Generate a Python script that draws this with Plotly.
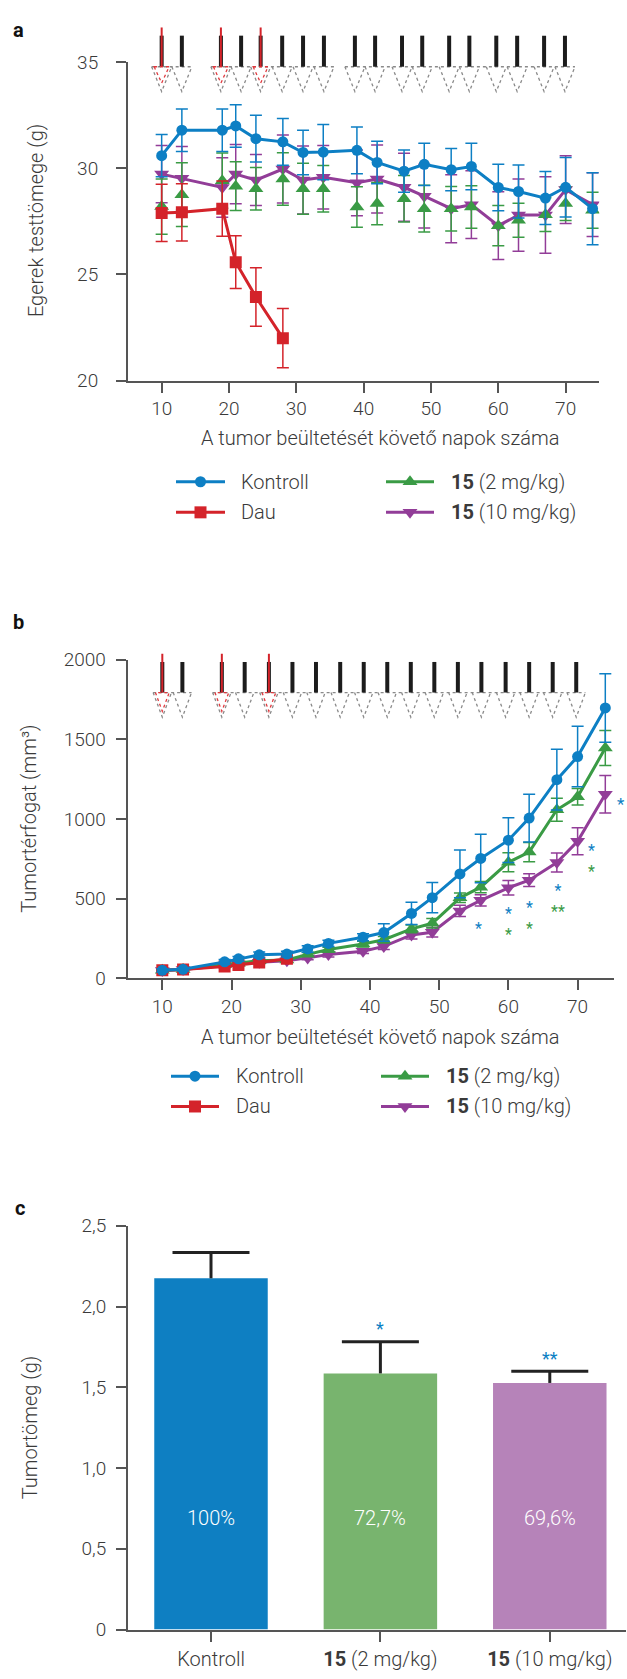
import plotly.graph_objects as go

W, H = 627, 1679
FONT = "Roboto"
TXT = "#3a3a3a"
AX = "#555555"

# ---------------- data ----------------
days = [10, 13, 19, 21, 24, 28, 31, 34, 39, 42, 46, 49, 53, 56, 60, 63, 67, 70, 74]
dau_days = [10, 13, 19, 21, 24, 28]

series_names = ["Kontroll", "Dau", "<b>15</b> (2 mg/kg)", "<b>15</b> (10 mg/kg)"]
series_colors = ["#0d7fc4", "#d4232a", "#3a9b45", "#923d98"]
series_symbols = ["circle", "square", "triangle-up", "triangle-down"]

# (a) body weight (g)
wt_kontroll = [30.6, 31.8, 31.8, 32.0, 31.4, 31.25, 30.75, 30.77, 30.85, 30.28, 29.87, 30.19, 29.94, 30.09, 29.1, 28.91, 28.6, 29.11, 28.1]
wt_kontroll_sd = [1.0, 1.0, 1.0, 1.0, 1.1, 1.1, 1.05, 1.3, 1.1, 1.0, 1.0, 1.0, 1.0, 1.1, 1.1, 1.25, 1.25, 1.4, 1.7]
wt_dau = [27.9, 27.93, 28.1, 25.58, 23.94, 22.0]
wt_dau_sd = [1.35, 1.35, 1.3, 1.24, 1.38, 1.4]
wt_15_2 = [28.2, 28.76, 29.42, 29.16, 29.04, 29.5, 29.04, 29.04, 28.18, 28.34, 28.57, 28.1, 28.1, 28.18, 27.3, 27.56, 27.82, 28.34, 28.03]
wt_15_2_sd = [1.3, 1.5, 1.3, 1.15, 1.0, 1.24, 1.2, 1.1, 0.95, 1.0, 1.1, 1.1, 1.05, 1.0, 0.95, 0.8, 0.8, 0.8, 0.85]
wt_15_10 = [29.73, 29.53, 29.1, 29.73, 29.45, 29.97, 29.45, 29.58, 29.32, 29.5, 29.11, 28.69, 28.1, 28.29, 27.3, 27.8, 27.8, 29.0, 28.29]
wt_15_10_sd = [1.35, 1.5, 1.4, 1.4, 1.2, 1.6, 1.6, 1.5, 1.55, 1.6, 1.6, 1.5, 1.6, 1.6, 1.6, 1.7, 1.8, 1.6, 1.5]

# (b) tumour volume (mm3)
vol_kontroll = [50, 56, 103, 122, 147, 152, 184, 219, 258, 287, 407, 506, 655, 752, 867, 1006, 1247, 1392, 1697]
vol_kontroll_sd = [10, 10, 15, 15, 18, 18, 20, 20, 22, 55, 70, 95, 150, 152, 140, 150, 190, 190, 215]
vol_dau = [50, 55, 74, 83, 99, 122]
vol_dau_sd = [5, 5, 8, 8, 10, 10]
vol_15_2 = [50, 55, 85, 95, 110, 115, 150, 180, 215, 242, 310, 345, 505, 572, 728, 792, 1058, 1139, 1445]
vol_15_2_sd = [5, 5, 8, 8, 10, 10, 12, 15, 18, 20, 25, 30, 30, 35, 60, 60, 72, 52, 110]
vol_15_10 = [48, 55, 80, 90, 100, 110, 128, 149, 170, 200, 272, 289, 423, 489, 568, 616, 727, 860, 1155]
vol_15_10_sd = [5, 5, 8, 8, 8, 10, 12, 15, 15, 20, 25, 30, 35, 35, 45, 40, 60, 85, 118]

# (b) significance marks, grouped in stacks (blue = vs Kontroll, green = vs 15 (2 mg/kg))
sig_b_day = [55.7, 60, 63.1, 67.1, 72.05]
sig_b_top = ["*", "*", "*", "*", "*"]
sig_b_bottom = ["", "*", "*", "**", "*"]
sig_b_y = [339, 368, 405, 513, 763]

# (c) tumour mass (g)
groups_c = ["Kontroll", "<b>15</b> (2 mg/kg)", "<b>15</b> (10 mg/kg)"]
mass = [2.175, 1.586, 1.527]
mass_sem = [0.16, 0.196, 0.072]
mass_pct = ["100%", "72,7%", "69,6%"]
mass_sig = ["", "*", "**"]
bar_colors = ["#0e7fc2", "#78b46e", "#b683b9"]
c_tickvals = [0, 0.5, 1.0, 1.5, 2.0, 2.5]
c_ticktext = ["0", "0,5", "1,0", "1,5", "2,0", "2,5"]

# treatment schedule (day positions as drawn above each panel)
sched_a = [10.0, 13.0, 18.8, 21.8, 24.7, 27.9, 31.0, 34.1, 38.7, 41.7, 45.7, 48.7, 52.7, 55.7, 59.7, 62.8, 66.8, 69.9]
sched_b = [10.0, 12.9, 18.6, 21.9, 25.4, 28.8, 32.2, 35.7, 39.1, 42.5, 45.9, 49.3, 52.7, 56.1, 59.6, 63.0, 66.4, 69.8]
sched_dau_idx = [0, 2, 4]
sched_groups_a = [(0, 2), (2, 8), (8, 18)]
sched_groups_b = [(0, 2), (2, 18)]


def yp(py):
    return 1 - py / H


def xp(px):
    return px / W


fig = go.Figure()
msize = [11, 12, 13, 13]

# ---------------- panel a ----------------
wt_series = [(wt_15_10, wt_15_10_sd, 3, days, "lines+markers"),
             (wt_15_2, wt_15_2_sd, 2, days, "markers"),
             (wt_dau, wt_dau_sd, 1, dau_days, "lines+markers"),
             (wt_kontroll, wt_kontroll_sd, 0, days, "lines+markers")]
for vals, sd, i, xs, mode in wt_series:
    fig.add_trace(go.Scatter(
        x=xs, y=vals, mode=mode, xaxis="x", yaxis="y",
        line=dict(color=series_colors[i], width=3),
        marker=dict(symbol=series_symbols[i], size=msize[i], color=series_colors[i]),
        error_y=dict(type="data", array=sd, visible=True, color=series_colors[i],
                     thickness=1.5, width=6),
        showlegend=False, hoverinfo="skip"))

# ---------------- panel b ----------------
vol_series = [(vol_15_10, vol_15_10_sd, 3, days), (vol_15_2, vol_15_2_sd, 2, days),
              (vol_dau, vol_dau_sd, 1, dau_days), (vol_kontroll, vol_kontroll_sd, 0, days)]
for vals, sd, i, xs in vol_series:
    fig.add_trace(go.Scatter(
        x=xs, y=vals, mode="lines+markers", xaxis="x2", yaxis="y2",
        line=dict(color=series_colors[i], width=3),
        marker=dict(symbol=series_symbols[i], size=msize[i], color=series_colors[i]),
        error_y=dict(type="data", array=sd, visible=True, color=series_colors[i],
                     thickness=1.5, width=6),
        showlegend=False, hoverinfo="skip"))

# ---------------- panel c ----------------
fig.add_trace(go.Bar(
    x=groups_c, y=mass, xaxis="x3", yaxis="y3", width=0.67,
    marker=dict(color=bar_colors, line=dict(width=0)),
    showlegend=False, hoverinfo="skip"))
stem_x, stem_y = [], []
for g, v, e in zip(groups_c, mass, mass_sem):
    stem_x += [g, g, None]
    stem_y += [v, v + e, None]
fig.add_trace(go.Scatter(x=stem_x, y=stem_y, mode="lines", xaxis="x3", yaxis="y3",
                         line=dict(color="#222222", width=3), showlegend=False, hoverinfo="skip"))
fig.add_trace(go.Scatter(x=groups_c, y=[v + e for v, e in zip(mass, mass_sem)], mode="markers",
                         xaxis="x3", yaxis="y3",
                         marker=dict(symbol="line-ew", size=55, line=dict(color="#222222", width=3)),
                         showlegend=False, hoverinfo="skip"))

# ---------------- legends (pixel overlay axis) ----------------
legend_rows = {"a": [477.3, 508.3], "b": [1080.0, 1110.7]}
legend_cols = {"a": [(176, 225, 239), (386, 434, 449)], "b": [(171, 219, 234), (381, 429, 444)]}
legend_layout = [(0, 0, 0), (1, 0, 1), (2, 1, 0), (3, 1, 1)]  # series, col, row
annotations = []
for pan in ["a", "b"]:
    for si, col, row in legend_layout:
        x0, x1, tx = legend_cols[pan][col]
        yy = legend_rows[pan][row]
        fig.add_trace(go.Scatter(x=[x0, x1], y=[yy, yy], mode="lines", xaxis="x4", yaxis="y4",
                                 line=dict(color=series_colors[si], width=3),
                                 showlegend=False, hoverinfo="skip"))
        fig.add_trace(go.Scatter(x=[(x0 + x1) / 2], y=[yy], mode="markers", xaxis="x4", yaxis="y4",
                                 marker=dict(symbol=series_symbols[si], size=msize[si],
                                             color=series_colors[si]),
                                 showlegend=False, hoverinfo="skip"))
        annotations.append(dict(x=xp(tx), y=yp(yy), xref="paper", yref="paper", text=series_names[si],
                                showarrow=False, xanchor="left", yanchor="middle",
                                font=dict(family=FONT, size=20, color=TXT, weight=300)))

# ---------------- schedule markers ----------------
shapes = []


def add_schedule(sched, groups, xref, ppd, red_top, bar_top, bar_bot, tri_bot, tri_hw, red_bot):
    hw = tri_hw / ppd
    for g0, g1 in groups:
        shapes.append(dict(type="line", xref=xref, yref="paper",
                           x0=sched[g0] - hw, x1=sched[g1 - 1] + hw, y0=yp(bar_bot), y1=yp(bar_bot),
                           line=dict(color="#8a8a8a", width=1.3, dash="dot")))
    for k, d in enumerate(sched):
        shapes.append(dict(type="path", xref=xref, yref="paper",
                           path=f"M{d - hw},{yp(bar_bot)} L{d},{yp(tri_bot)} L{d + hw},{yp(bar_bot)}",
                           line=dict(color="#8a8a8a", width=1.3, dash="dot")))
        shapes.append(dict(type="line", xref=xref, yref="paper", x0=d, x1=d,
                           y0=yp(bar_top), y1=yp(bar_bot), line=dict(color="#1c1c1c", width=4)))
        if k in sched_dau_idx:
            rhw = 0.75 * hw
            shapes.append(dict(type="path", xref=xref, yref="paper",
                               path=f"M{d - rhw},{yp(bar_bot)} L{d},{yp(red_bot)} L{d + rhw},{yp(bar_bot)} Z",
                               line=dict(color="#e0393e", width=1.3, dash="dot")))
            shapes.append(dict(type="line", xref=xref, yref="paper", x0=d, x1=d,
                               y0=yp(red_top), y1=yp(bar_bot), line=dict(color="#d4232a", width=2)))


add_schedule(sched_a, sched_groups_a, "x", 6.733, 16.7, 25.0, 56.5, 81.7, 10, 73)
add_schedule(sched_b, sched_groups_b, "x2", 6.92, 651.7, 660.0, 691.0, 716.0, 9.2, 710)

# ---------------- text annotations ----------------
for lab, x, y in [("a", 18, 19), ("b", 18, 619), ("c", 19.5, 1214)]:
    annotations.append(dict(x=xp(x), y=yp(y), xref="paper", yref="paper", text=f"<b>{lab}</b>",
                            showarrow=False, xanchor="center", yanchor="middle",
                            font=dict(family=FONT, size=20, color="#111111")))

for txt, x, y in [("Egerek testtömege (g)", 36, 213), ("Tumortérfogat (mm³)", 29, 819),
                  ("Tumortömeg (g)", 30, 1436)]:
    annotations.append(dict(x=xp(x), y=yp(y), xref="paper", yref="paper", text=txt, textangle=-90,
                            showarrow=False, xanchor="center", yanchor="middle",
                            font=dict(family=FONT, size=20, color=TXT, weight=300)))

for y in [433.3, 1040]:
    annotations.append(dict(x=xp(380), y=yp(y), xref="paper", yref="paper",
                            text="A tumor beültetését követő napok száma",
                            showarrow=False, xanchor="center", yanchor="middle",
                            font=dict(family=FONT, size=20, color=TXT, weight=300)))

for d, top, bot, v in zip(sig_b_day, sig_b_top, sig_b_bottom, sig_b_y):
    txt = f"<span style='color:{series_colors[0]}'>{top}</span>"
    if bot:
        txt += f"<br><span style='color:{series_colors[2]}'>{bot}</span>"
    annotations.append(dict(x=d, y=v, xref="x2", yref="y2", text=txt, showarrow=False,
                            yshift=-4, font=dict(family=FONT, size=16, color=series_colors[0])))
annotations.append(dict(x=days[-1], y=vol_15_10[-1] - 35, xref="x2", yref="y2", text="*",
                        showarrow=False, xshift=16, yshift=-4,
                        font=dict(family=FONT, size=17, color=series_colors[0])))

for g, v, e, p, s in zip(groups_c, mass, mass_sem, mass_pct, mass_sig):
    annotations.append(dict(x=g, y=0.69, xref="x3", yref="y3", text=p, showarrow=False,
                            font=dict(family=FONT, size=20, color="white", weight=300)))
    if s:
        annotations.append(dict(x=g, y=v + e + 0.105, xref="x3", yref="y3", text=s, showarrow=False,
                                yshift=-4, font=dict(family=FONT, size=18, color=series_colors[0])))

axis_common = dict(showline=True, linecolor=AX, linewidth=2, ticks="outside", tickcolor=AX,
                   tickwidth=2, ticklen=10, showgrid=False, zeroline=False,
                   tickfont=dict(family=FONT, size=19, color=TXT, weight=300), fixedrange=True)

fig.update_layout(
    width=W, height=H, margin=dict(l=0, r=0, t=0, b=0),
    paper_bgcolor="white", plot_bgcolor="rgba(0,0,0,0)",
    font=dict(family=FONT, color=TXT),
    xaxis=dict(domain=[xp(128), xp(599.3)], range=[5, 75], anchor="y",
               tickvals=[10, 20, 30, 40, 50, 60, 70], **axis_common),
    yaxis=dict(domain=[yp(374.7), yp(52)], range=[20, 35], anchor="x",
               tickvals=[20, 25, 30, 35], ticklabelstandoff=14, **axis_common),
    xaxis2=dict(domain=[xp(127.7), xp(614.3)], range=[5, 75.3], anchor="y2",
                tickvals=[10, 20, 30, 40, 50, 60, 70], **axis_common),
    yaxis2=dict(domain=[yp(980.7), yp(657.7)], range=[0, 2000], anchor="x2",
                tickvals=[0, 500, 1000, 1500, 2000], ticklabelstandoff=6, **axis_common),
    xaxis3=dict(domain=[xp(128), xp(626)], range=[-0.49, 2.45], anchor="y3", type="category",
                **axis_common),
    yaxis3=dict(domain=[yp(1641), yp(1231.7)], range=[0, 2.5], anchor="x3",
                tickvals=c_tickvals, ticktext=c_ticktext, ticklabelstandoff=6, **axis_common),
    xaxis4=dict(domain=[0, 1], range=[0, W], visible=False, anchor="y4", fixedrange=True),
    yaxis4=dict(domain=[0, 1], range=[H, 0], visible=False, anchor="x4", fixedrange=True),
    shapes=shapes, annotations=annotations,
)
fig.update_xaxes(selector=dict(anchor="y3"), tickfont=dict(family=FONT, size=20, color=TXT, weight=300))

fig.write_html("out.html")
